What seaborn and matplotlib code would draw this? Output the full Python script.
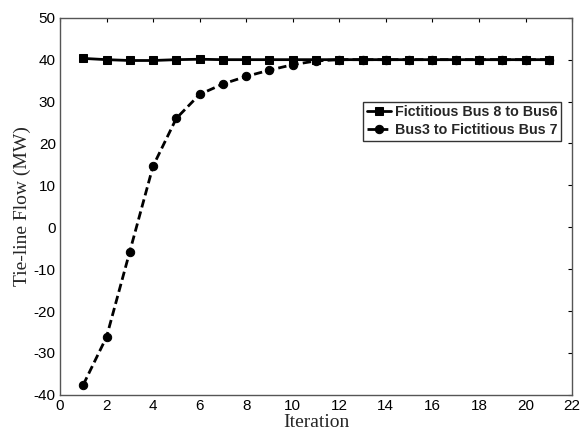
import seaborn as sns
import matplotlib.pyplot as plt
import pandas as pd
import numpy as np

# --- data ---
iteration = list(range(1, 22))
bus8_to_bus6 = [40.3, 40.0, 39.8, 39.8, 40.0, 40.1, 40.0, 40.0, 40.0, 40.0, 40.0,
                40.0, 40.0, 40.0, 40.0, 40.0, 40.0, 40.0, 40.0, 40.0, 40.0]
bus3_to_bus7 = [-37.6, -26.2, -5.8, 14.6, 26.0, 31.7, 34.2, 36.0, 37.5, 38.8, 39.7,
                40.0, 40.0, 40.0, 40.0, 40.0, 40.0, 40.0, 40.0, 40.0, 40.0]
series_names = ['Fictitious Bus 8 to Bus6', 'Bus3 to Fictitious Bus 7']

df = pd.DataFrame({
    'iteration': iteration * 2,
    'flow': bus8_to_bus6 + bus3_to_bus7,
    'series': [series_names[0]] * len(iteration) + [series_names[1]] * len(iteration),
})

sns.set_theme(style='white')
plt.rcParams.update({
    'font.family': 'sans-serif',
    'font.sans-serif': ['Liberation Sans', 'DejaVu Sans'],
    'xtick.direction': 'in',
    'ytick.direction': 'in',
    'axes.unicode_minus': False,  # plain hyphen like the original
})

fig = plt.figure(figsize=(5.82, 4.33), dpi=100)
ax = fig.add_axes([0.103, 0.088, 0.880, 0.871])

sns.lineplot(data=df, x='iteration', y='flow', hue='series', style='series',
             hue_order=series_names, style_order=series_names,
             palette=['black', 'black'], markers=['s', 'o'],
             dashes=[(None, None), (3, 1.5)], linewidth=2, markersize=6,
             markeredgecolor='black', ax=ax)

ax.set_xlim(0, 22)
ax.set_ylim(-40, 50)
ax.set_xticks(np.arange(0, 23, 2))
ax.set_yticks(np.arange(-40, 51, 10))
ax.tick_params(axis='both', which='both', top=True, right=True, labelsize=11,
               length=3, width=0.8, colors='black', pad=3)
for s in ax.spines.values():
    s.set_color('#555555')
    s.set_linewidth(1.0)

ax.set_xlabel('Iteration', family='Liberation Serif', fontsize=14, labelpad=1)
ax.set_ylabel('Tie-line Flow (MW)', family='Liberation Serif', fontsize=14, labelpad=2)

leg = ax.legend(loc='upper right', bbox_to_anchor=(0.979, 0.777), frameon=True,
                fancybox=False, edgecolor='black', handlelength=1.7,
                handletextpad=0.3, borderpad=0.25, labelspacing=0.25,
                borderaxespad=0,
                prop={'family': 'Liberation Sans', 'weight': 'bold', 'size': 10.3})
leg.get_frame().set_linewidth(1.0)

fig.savefig('out.png', dpi=100, facecolor='white')
